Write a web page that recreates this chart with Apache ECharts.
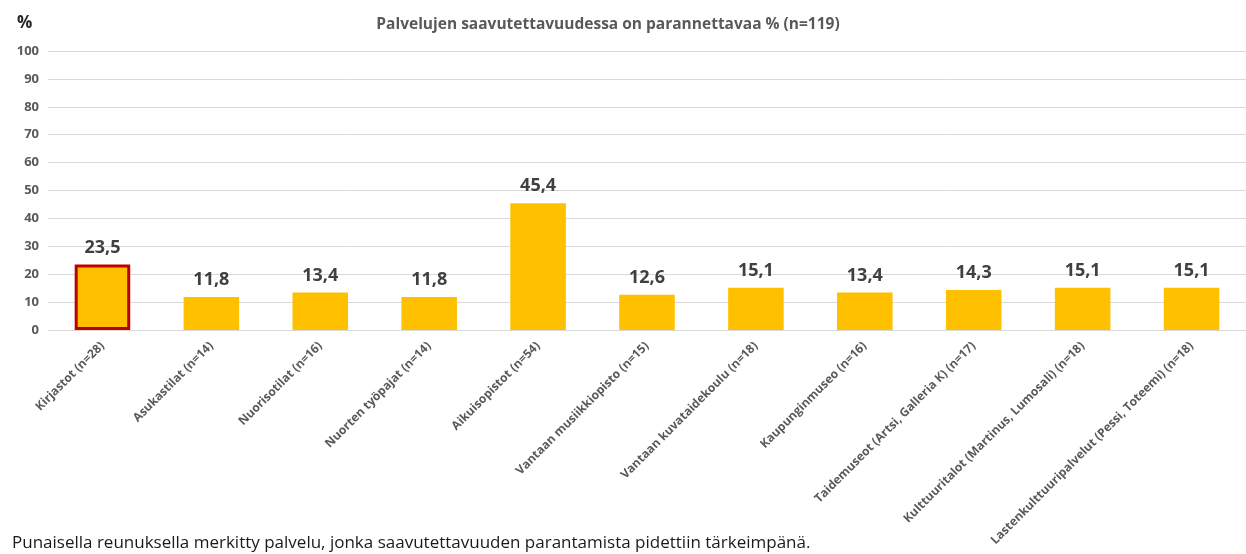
<!DOCTYPE html>
<html>
<head>
<meta charset="utf-8">
<script src="https://cdn.jsdelivr.net/npm/echarts@6/dist/echarts.min.js"></script>
<style>
  html, body { margin: 0; padding: 0; background: #fff; }
  #chart { width: 1246px; height: 554px; }
</style>
</head>
<body>
<div id="chart"></div>
<script>
// palvelut ja osuudet (%)
const categories = [
  'Kirjastot (n=28)', 'Asukastilat (n=14)', 'Nuorisotilat (n=16)', 'Nuorten työpajat (n=14)',
  'Aikuisopistot (n=54)', 'Vantaan musiikkiopisto (n=15)', 'Vantaan kuvataidekoulu (n=18)',
  'Kaupunginmuseo (n=16)', 'Taidemuseot (Artsi, Galleria K) (n=17)',
  'Kulttuuritalot (Martinus, Lumosali) (n=18)', 'Lastenkulttuuripalvelut (Pessi, Toteemi) (n=18)'
];
const values = [23.5, 11.8, 13.4, 11.8, 45.4, 12.6, 15.1, 13.4, 14.3, 15.1, 15.1];
const highlighted = [0]; // punainen reunus
const yTicks = [0, 10, 20, 30, 40, 50, 60, 70, 80, 90, 100];

const font = '"Open Sans", "Liberation Sans", sans-serif';
const chart = echarts.init(document.getElementById('chart'));

const option = {
  animation: false,
  textStyle: { fontFamily: font },
  title: [
    {
      text: 'Palvelujen saavutettavuudessa on parannettavaa % (n=119)',
      left: 603, top: 12, textAlign: 'center',
      textStyle: { fontSize: 15.5, fontWeight: 'bold', color: '#595959', fontFamily: font }
    },
    {
      text: '%',
      left: 12, top: 10,
      textStyle: { fontSize: 17, fontWeight: 'bold', color: '#262626', fontFamily: font }
    },
    {
      text: 'Punaisella reunuksella merkitty palvelu, jonka saavutettavuuden parantamista pidettiin tärkeimpänä.',
      left: 7, top: 530,
      textStyle: { fontSize: 17, fontWeight: 'normal', color: '#1a1a1a', fontFamily: font }
    }
  ],
  grid: { left: 48, width: 1210, top: 51, height: 279 },
  xAxis: {
    type: 'category',
    data: categories,
    axisLine: { lineStyle: { color: '#d9d9d9', width: 1 } },
    axisTick: { show: false },
    axisLabel: {
      rotate: 45, interval: 0, color: '#595959', fontSize: 12, fontWeight: 'bold', margin: 14,
      fontFamily: font
    }
  },
  yAxis: {
    type: 'value',
    min: yTicks[0],
    max: yTicks[yTicks.length - 1],
    interval: 10,
    axisLine: { show: false },
    axisTick: { show: false },
    splitLine: { lineStyle: { color: '#d9d9d9', width: 1 } },
    axisLabel: { color: '#595959', fontSize: 13, fontWeight: 'bold', margin: 9, fontFamily: font }
  },
  series: [{
    type: 'bar',
    barWidth: '51%',
    data: values.map((v, i) => highlighted.includes(i)
      ? { value: v, itemStyle: { color: '#FFC000', borderColor: '#C00000', borderWidth: 3 } }
      : { value: v }),
    itemStyle: { color: '#FFC000' },
    label: {
      show: true, position: 'top', distance: 8,
      formatter: p => String(p.value).replace('.', ','),
      fontSize: 18, fontWeight: 'bold', color: '#404040', fontFamily: font
    }
  }]
};

chart.setOption(option);
</script>
</body>
</html>
